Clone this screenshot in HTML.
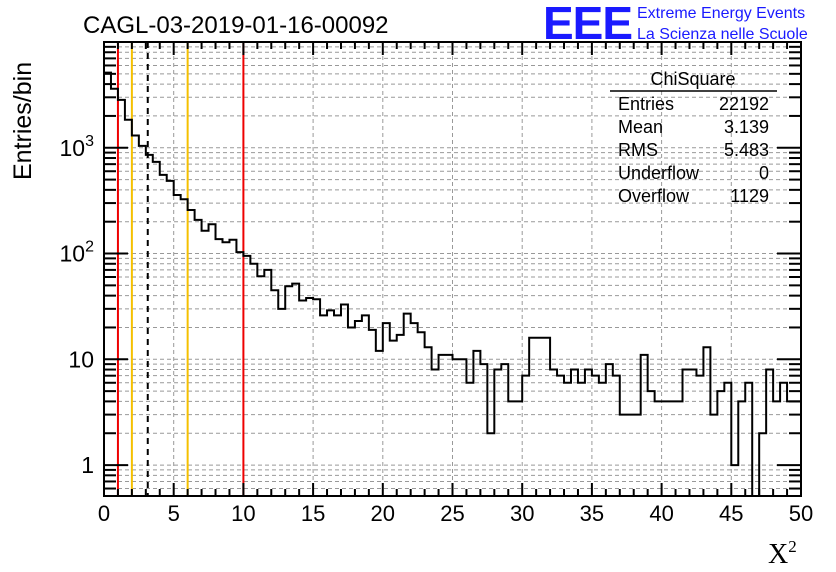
<!DOCTYPE html>
<html><head><meta charset="utf-8">
<style>
html,body{margin:0;padding:0;background:#fff;}
svg{display:block;font-family:"Liberation Sans",sans-serif;}
</style></head>
<body>
<svg id="chart" width="836" height="572" viewBox="0 0 836 572" xmlns="http://www.w3.org/2000/svg">
<rect width="836" height="572" fill="#fff"/>
<text x="83" y="33" font-size="24" fill="#000">CAGL-03-2019-01-16-00092</text>
<text x="543" y="39" font-size="46" font-weight="bold" fill="#1a1aff" letter-spacing="-1">EEE</text>
<text x="637" y="18" font-size="16" fill="#1a1aff">Extreme Energy Events</text>
<text x="637" y="39" font-size="16" fill="#1a1aff">La Scienza nelle Scuole</text>
<g id="grid"></g>
<g id="vlines"></g>
<path id="hist" fill="none" stroke="#000" stroke-width="2"/>
<g id="axes"></g>
<rect x="104" y="42" width="697" height="454" fill="none" stroke="#000" stroke-width="2"/>
<text transform="translate(31,180) rotate(-90)" font-size="25">Entries/bin</text>
<text x="768" y="563" font-size="28" font-family="Liberation Serif,serif">X<tspan font-size="17" dy="-11">2</tspan></text>
<g font-size="18">
<text x="693" y="85" text-anchor="middle">ChiSquare</text>
<line x1="610" y1="91" x2="777" y2="91" stroke="#000" stroke-width="1.5"/>
<text x="618" y="110">Entries</text><text x="769" y="110" text-anchor="end">22192</text>
<text x="618" y="133">Mean</text><text x="769" y="133" text-anchor="end">3.139</text>
<text x="618" y="156">RMS</text><text x="769" y="156" text-anchor="end">5.483</text>
<text x="618" y="179">Underflow</text><text x="769" y="179" text-anchor="end">0</text>
<text x="618" y="202">Overflow</text><text x="769" y="202" text-anchor="end">1129</text>
</g>
</svg>
<script>
const binCounts = [5140,3610,2840,1840,1305,1042,857,736,555,487,358,326,258,208,164,189,137,128,135,103,95,80,61,70,45,30,49,52,36,38,37,26,29,26,33,20,23,26,19,12,22,15,17,27,22,18,13,8,11,11,10,10,6,12,9,2,8,9,4,4,7,16,16,16,8,7,6,8,6,8,7,6,9,7,3,3,3,11,5,4,4,4,4,8,8,7,13,3,5,6,1,4,6,0,2,8,4,6,4,4];
const binWidth = 0.5;
const xTickLabels = ["0","5","10","15","20","25","30","35","40","45","50"];
const yDecades = [1,10,100,1000];
const yDecadeLabels = ["1","10","10²","10³"];
const refLinesX = [1,2,6,10,3.139];
const refLinesColor = ["#e00","#f5c000","#f5c000","#e00","#000"];

const X0=104,X1=801,Y0=42,Y1=496;
const xmin=0,xmax=50,ymin=0.51,ymax=10000;
const sx=v=>X0+(v-xmin)/(xmax-xmin)*(X1-X0);
const sy=v=>{if(v<=0)return Y1;const y=Y1-(Math.log10(v)-Math.log10(ymin))/(Math.log10(ymax)-Math.log10(ymin))*(Y1-Y0);return Math.max(Y0,Math.min(Y1,y));};
const NS="http://www.w3.org/2000/svg";
function mk(tag,attrs,parent){const e=document.createElementNS(NS,tag);for(const k in attrs)e.setAttribute(k,attrs[k]);parent.appendChild(e);return e;}
const grid=document.getElementById('grid'),axes=document.getElementById('axes'),vl=document.getElementById('vlines');
xTickLabels.forEach((l,i)=>{const v=+l;const x=sx(v);
 if(v>xmin&&v<xmax){const g=mk('line',{x1:x,x2:x,y1:Y0,y2:Y1,stroke:'#999','stroke-dasharray':'4,3','stroke-width':1},grid);
 
 }
 const t=mk('text',{x:x,y:521,'font-size':22,'text-anchor':'middle'},axes);t.textContent=l;
 
 
});
for(let v=xmin;v<=xmax;v+=1){const x=sx(v);const L=(v%5===0)?13:7;
 mk('line',{x1:x,x2:x,y1:Y1,y2:Y1-L,stroke:'#000','stroke-width':2},axes);
 mk('line',{x1:x,x2:x,y1:Y0,y2:Y0+L,stroke:'#000','stroke-width':2},axes);}
[0.1,1,10,100,1000].forEach(d=>{for(let m=1;m<=9;m++){const v=d*m;if(v<ymin||v>ymax)continue;const y=sy(v);
 const g=mk('line',{x1:X0,x2:X1,y1:y,y2:y,stroke:'#999','stroke-dasharray':'4,3','stroke-width':1},grid);
 
 
 const L=m===1?24:12;
 mk('line',{x1:X0,x2:X0+L,y1:y,y2:y,stroke:'#000','stroke-width':2},axes);
 mk('line',{x1:X1,x2:X1-L,y1:y,y2:y,stroke:'#000','stroke-width':2},axes);}});
yDecades.forEach((v,i)=>{const t=mk('text',{x:94,y:sy(v)+8,'font-size':23,'text-anchor':'end'},axes);
 const lab=yDecadeLabels[i];
 if(lab.length>2){t.textContent='10';const ts=mk('tspan',{dy:-10,'font-size':16},t);ts.textContent=lab.slice(2)==='²'?'2':'3';}
 else t.textContent=lab;
 
 });
refLinesX.forEach((v,i)=>{const l=mk('line',{x1:sx(v),x2:sx(v),y1:Y0,y2:Y1,stroke:refLinesColor[i],'stroke-width':2},vl);
 if(refLinesColor[i]==='#000')l.setAttribute('stroke-dasharray','6,5');
 
 });
let d='';binCounts.forEach((c,i)=>{const xa=sx(i*binWidth),xb=sx((i+1)*binWidth),y=sy(c);
 d+=(i===0?'M'+xa+','+Y1+' L'+xa+','+y:' L'+xa+','+y)+' L'+xb+','+y;});
d+=' L'+sx(binCounts.length*binWidth)+','+Y1;
document.getElementById('hist').setAttribute('d',d);
</script>
</body></html>
